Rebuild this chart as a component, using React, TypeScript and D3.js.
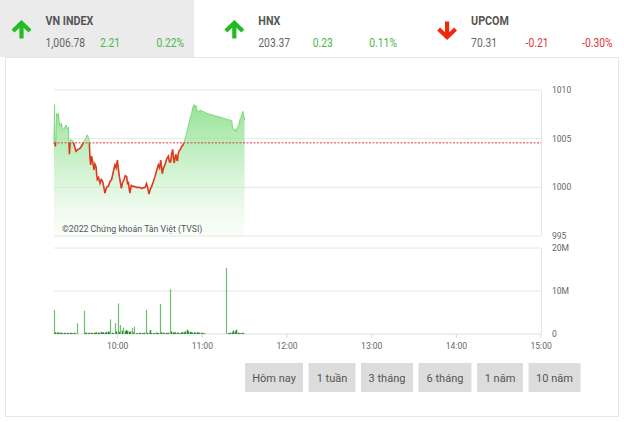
import React from 'react';
import * as d3 from 'd3';

const W = 624;
const H = 422;

// header data
const indexNames = ['VN INDEX', 'HNX', 'UPCOM'];
const indexValues = ['1,006.78', '203.37', '70.31'];
const indexChanges = ['2.21', '0.23', '-0.21'];
const indexPercents = ['0.22%', '0.11%', '-0.30%'];
const indexUp = [true, true, false];

const refPrice = 1004.57;

// minutes after 09:15
const priceMinutes = [
  0, 0.4, 0.8, 1.3, 1.9, 2.5, 3.1, 3.7, 4.3, 5.2, 6.0, 6.6, 7.5, 8.5, 9.4, 10.2, 10.6, 10.9, 11.3, 11.8,
  12.8, 13.7, 14.6, 15.6, 17.0, 18.4, 20.2, 22.0, 23.6, 24.4, 25.0, 25.5, 26.0, 26.6, 27.2, 27.8, 28.3, 29.0, 29.8, 30.3,
  30.7, 31.6, 32.6, 33.5, 34.5, 35.3, 36.1, 37.2, 38.5, 39.7, 40.8, 42.0, 43.2, 44.0, 44.9, 45.6, 46.3, 47.0, 47.7, 48.6,
  49.6, 50.5, 51.5, 52.1, 52.7, 53.3, 53.8, 54.7, 55.7, 56.7, 58.6, 60.3, 62.1, 64.5, 65.6, 66.5, 67.3, 68.2, 69.2, 70.4,
  71.5, 72.7, 73.9, 74.8, 75.6, 76.1, 76.7, 77.6, 78.6, 79.8, 81.0, 81.8, 82.6, 83.3, 84.1, 84.6, 85.2, 85.8, 86.4, 86.9,
  87.4, 88.1, 88.8, 89.6, 90.4, 91.2, 92.1, 93.6, 95.2, 96.3, 97.5, 98.3, 99.2, 99.9, 100.6, 101.4, 102.2, 103.4, 105.7, 108.1,
  110.5, 112.9, 115.2, 117.6, 120.0, 122.3, 124.1, 125.9, 126.4, 127.0, 128.0, 128.9, 129.7, 130.6, 131.2, 131.8, 132.4, 133.0, 133.8, 134.6,
  135.0,
];
const priceValues = [
  1004.5, 1008.5, 1004.2, 1004.6, 1007.6, 1007.3, 1007.6, 1006.8, 1006.3, 1006.6, 1006.0, 1005.9, 1006.1, 1006.4, 1006.0, 1006.2, 1004.6, 1003.4, 1004.3, 1004.9,
  1004.8, 1004.7, 1004.2, 1003.7, 1003.9, 1004.0, 1004.4, 1004.9, 1005.4, 1005.1, 1004.7, 1003.0, 1002.3, 1003.2, 1002.8, 1002.3, 1001.8, 1002.4, 1002.1, 1001.2,
  1000.8, 1001.0, 1000.4, 1000.8, 1000.6, 1000.0, 999.4, 1000.0, 1000.1, 1000.6, 1000.8, 1001.6, 1002.3, 1002.0, 1002.8, 1001.9, 1001.1, 1000.5, 999.9, 1000.5,
  1000.8, 1001.2, 1001.1, 1000.3, 1000.6, 999.8, 999.4, 1000.2, 1000.1, 1000.1, 1000.0, 1000.0, 999.9, 1000.0, 1000.4, 999.9, 999.3, 999.8, 1000.1, 1000.6,
  1001.1, 1001.7, 1002.3, 1002.0, 1002.8, 1002.2, 1001.4, 1002.0, 1002.3, 1002.9, 1003.2, 1002.6, 1002.6, 1003.4, 1003.9, 1003.0, 1002.5, 1003.1, 1003.4, 1002.9,
  1002.7, 1003.5, 1003.8, 1003.9, 1004.2, 1004.3, 1004.6, 1005.4, 1006.3, 1007.0, 1007.6, 1008.2, 1008.5, 1008.3, 1008.4, 1007.9, 1007.8, 1007.9, 1007.8, 1007.6,
  1007.5, 1007.4, 1007.3, 1007.2, 1007.1, 1007.0, 1006.9, 1006.9, 1006.2, 1005.9, 1006.0, 1005.7, 1006.1, 1006.3, 1006.6, 1007.0, 1007.2, 1007.4, 1007.8, 1007.3,
  1006.9,
];

const volMinutes = [
  0, 1, 2, 3, 4, 5, 6, 7, 8, 9, 10, 11, 12, 13, 14, 15, 16,
  21, 22, 23, 24, 25, 26, 27, 28, 29, 30, 31, 32, 33, 34, 35, 36, 37, 38, 39, 40,
  41, 42, 43, 44, 45, 46, 47, 48, 49, 50, 51, 52, 53, 54, 55, 56, 57, 58, 59, 60,
  61, 62, 63, 64, 65, 66, 67, 68, 69, 70, 71, 72, 73, 74, 75, 76, 77, 78, 79, 80,
  81, 82, 83, 84, 85, 86, 87, 88, 89, 90, 91, 92, 93, 94, 95, 96, 97, 98, 99, 100,
  101, 102, 103, 104, 105, 106,
  122, 123, 124, 125, 126, 127, 128, 129, 130, 131, 132, 133, 134,
];
const volMillions = [
  5.6, 0.4, 0.3, 0.4, 0.3, 0.3, 0.2, 0.3, 0.2, 0.3, 0.2, 0.3, 0.2, 0.2, 0.3, 0.2, 2.5,
  5.4, 0.3, 0.3, 0.2, 0.3, 0.3, 0.2, 0.3, 0.3, 0.4, 0.3, 0.3, 0.5, 0.3, 0.4, 0.3, 0.5, 0.6, 0.4, 3.4,
  0.3, 0.2, 2.5, 0.6, 7.1, 0.5, 2.1, 0.8, 1.5, 0.6, 0.9, 0.7, 0.5, 0.6, 1.4, 0.4, 1.7, 0.2, 0.2, 0.2,
  0.3, 0.2, 0.2, 0.3, 5.6, 0.3, 0.2, 0.9, 0.2, 0.2, 0.2, 0.3, 0.3, 0.2, 7.0, 0.4, 0.3, 0.2, 0.3, 0.2,
  0.3, 10.4, 0.6, 0.4, 0.3, 0.4, 0.3, 0.3, 0.2, 0.3, 0.5, 0.4, 0.6, 1.0, 0.6, 0.5, 0.4, 0.3, 0.4, 0.3,
  0.4, 0.3, 0.3, 0.2, 0.3, 0.2,
  15.4, 0.2, 0.2, 0.3, 0.4, 0.8, 0.6, 1.0, 0.3, 0.2, 0.2, 0.3, 0.2,
];

const priceTicks = [995, 1000, 1005, 1010];
const volTicks = [0, 10, 20];
const volTickLabels = ['0', '10M', '20M'];
const hourTicks = [10, 11, 12, 13, 14, 15];
const buttonLabels = ['Hôm nay', '1 tuần', '3 tháng', '6 tháng', '1 năm', '10 năm'];

// layout
const plotL = 54;
const plotR = 541;
const priceTop = 90;
const priceBot = 236;
const volTop = 248;
const volBot = 334;
const buttonWidths = [58, 47, 52, 53, 46, 52];
const buttonGap = 5.5;
const buttonX0 = 245;
const buttonY = 363;
const buttonH = 29;

const day = (h: number, m: number) => new Date(2022, 0, 3, h, m, 0);
const fromMinutes = (m: number) => new Date(day(9, 15).getTime() + m * 60000);

const FONT = 'Roboto, "Liberation Sans", sans-serif';

function Arrow({ cx, top, up, color }: { cx: number; top: number; up: boolean; color: string }) {
  const h = 17;
  const hw = 8.5;
  const head = 8.5;
  const sw = 4.2;
  if (up) {
    return (
      <g stroke={color} strokeWidth={sw} fill="none" strokeLinejoin="miter" strokeLinecap="butt">
        <line x1={cx} y1={top + 2} x2={cx} y2={top + h} />
        <polyline points={`${cx - hw},${top + head + 1} ${cx},${top + 1.5} ${cx + hw},${top + head + 1}`} />
      </g>
    );
  }
  return (
    <g stroke={color} strokeWidth={sw} fill="none" strokeLinejoin="miter" strokeLinecap="butt">
      <line x1={cx} y1={top} x2={cx} y2={top + h - 2} />
      <polyline points={`${cx - hw},${top + h - head - 1} ${cx},${top + h - 1.5} ${cx + hw},${top + h - head - 1}`} />
    </g>
  );
}

function CText(props: any) {
  const { x, y, children, sx = 0.86, ...rest } = props;
  return (
    <text transform={`translate(${x},${y}) scale(${sx},1)`} {...rest}>
      {children}
    </text>
  );
}

export default function App() {
  const x = d3.scaleTime().domain([day(9, 15), day(15, 0)]).range([plotL, plotR]);
  const yP = d3.scaleLinear().domain([995, 1010]).range([priceBot, priceTop]);
  const yV = d3.scaleLinear().domain([0, 20]).range([volBot, volTop]);

  const pts = priceMinutes.map((m, i) => ({ t: fromMinutes(m), v: priceValues[i] }));
  const line = d3.line<any>().x((d) => x(d.t)).y((d) => yP(d.v));
  const area = d3
    .area<any>()
    .x((d) => x(d.t))
    .y0(priceBot)
    .y1((d) => yP(d.v));
  const yRef = yP(refPrice);

  return (
    <svg
      width={W}
      height={H}
      style={{ position: 'absolute', left: 0, top: 0, background: '#fff' }}
      fontFamily={FONT}
    >
      <defs>
        <linearGradient id="gfill" gradientUnits="userSpaceOnUse" x1="0" y1={priceTop} x2="0" y2={priceBot}>
          <stop offset="0" stopColor="#7fdc7f" stopOpacity={0.95} />
          <stop offset="0.45" stopColor="#9fe59f" stopOpacity={0.6} />
          <stop offset="1" stopColor="#c8f0c8" stopOpacity={0.08} />
        </linearGradient>
        <clipPath id="above">
          <rect x={plotL - 2} y={priceTop - 10} width={plotR - plotL + 4} height={yRef - priceTop + 10} />
        </clipPath>
        <clipPath id="below">
          <rect x={plotL - 2} y={yRef} width={plotR - plotL + 4} height={priceBot - yRef + 10} />
        </clipPath>
      </defs>

      {/* header */}
      <rect x={0} y={0} width={194} height={57} fill="#ebebeb" />
      {indexNames.map((n, i) => {
        const bx = 11.5 + i * 212.8;
        const up = indexUp[i];
        const chg = up ? '#4cb84c' : '#e0383a';
        return (
          <g key={n}>
            <Arrow cx={bx + 10} top={21.5} up={up} color={up ? '#22bb22' : '#ee2a0c'} />
            <CText x={bx + 34} y={25} fontSize={12.5} fontWeight="bold" fill="#555">
              {n}
            </CText>
            <CText x={bx + 34} y={47} fontSize={12} fill="#666">
              {indexValues[i]}
            </CText>
            <CText x={bx + 88.5} y={47} fontSize={12} fill={chg}>
              {indexChanges[i]}
            </CText>
            <CText x={bx + 145} y={47} fontSize={12} fill={chg}>
              {indexPercents[i]}
            </CText>
          </g>
        );
      })}

      {/* panel */}
      <rect x={5.5} y={57.5} width={613} height={359} fill="none" stroke="#e6e6e6" />

      {/* price grid */}
      {priceTicks.map((t) => (
        <line key={t} x1={plotL} x2={plotR} y1={yP(t)} y2={yP(t)} stroke="#e6e6e6" />
      ))}
      <line x1={plotR + 0.5} x2={plotR + 0.5} y1={priceTop} y2={priceBot} stroke="#e6e6e6" />

      {/* price area */}
      <path d={area(pts) || ''} fill="url(#gfill)" />
      <path d={line(pts) || ''} fill="none" stroke="#7ed67e" strokeWidth={1} clipPath="url(#above)" />
      <path d={line(pts) || ''} fill="none" stroke="#dd3a1e" strokeWidth={1.6} clipPath="url(#below)" />
      <line x1={plotL} x2={plotR} y1={yRef} y2={yRef} stroke="#e03a3a" strokeWidth={1} strokeDasharray="2,1.5" />

      {priceTicks.map((t) => (
        <CText key={t} x={552} y={yP(t) + 3} fontSize={9.5} fill="#666" sx={0.9}>
          {t}
        </CText>
      ))}

      <CText x={62} y={231.5} fontSize={9.5} fill="#555" sx={0.92}>
        ©2022 Chứng khoán Tân Việt (TVSI)
      </CText>

      {/* volume grid */}
      {volTicks.map((t) => (
        <line key={t} x1={plotL} x2={plotR} y1={yV(t)} y2={yV(t)} stroke={t === 0 ? '#d8dde8' : '#e6e6e6'} />
      ))}
      <line x1={plotR + 0.5} x2={plotR + 0.5} y1={volTop} y2={volBot} stroke="#e6e6e6" />
      {volTicks.map((t, i) => (
        <CText key={t} x={552} y={yV(t) + 3} fontSize={9.5} fill="#666" sx={0.9}>
          {volTickLabels[i]}
        </CText>
      ))}

      {/* volume bars */}
      {volMinutes.map((m, i) => {
        const xx = Math.round(x(fromMinutes(m))) + 0.5;
        const big = volMillions[i] > 1.2;
        return (
          <line
            key={m}
            x1={xx}
            x2={xx}
            y1={volBot}
            y2={yV(volMillions[i])}
            stroke={big ? '#6cbf6c' : '#2f8f2f'}
            strokeWidth={big ? 1.2 : 1.5}
          />
        );
      })}

      {/* x axis */}
      {hourTicks.map((h) => {
        const xx = x(day(h, 0));
        return (
          <g key={h}>
            <line x1={xx} x2={xx} y1={volBot} y2={volBot + 4} stroke="#d8dde8" />
            <CText x={xx - 10.5} y={349} fontSize={9.5} fill="#666" sx={0.9}>
              {`${h}:00`}
            </CText>
          </g>
        );
      })}

      {/* buttons */}
      {buttonLabels.map((b, i) => {
        const bx = buttonX0 + d3.sum(buttonWidths.slice(0, i)) + buttonGap * i;
        const bw = buttonWidths[i];
        return (
          <g key={b}>
            <rect x={bx} y={buttonY} width={bw} height={buttonH} fill="#dcdcdc" />
            <text
              x={bx + bw / 2}
              y={buttonY + buttonH / 2 + 4}
              textAnchor="middle"
              fontSize={11}
              fill="#555"
            >
              {b}
            </text>
          </g>
        );
      })}
    </svg>
  );
}
